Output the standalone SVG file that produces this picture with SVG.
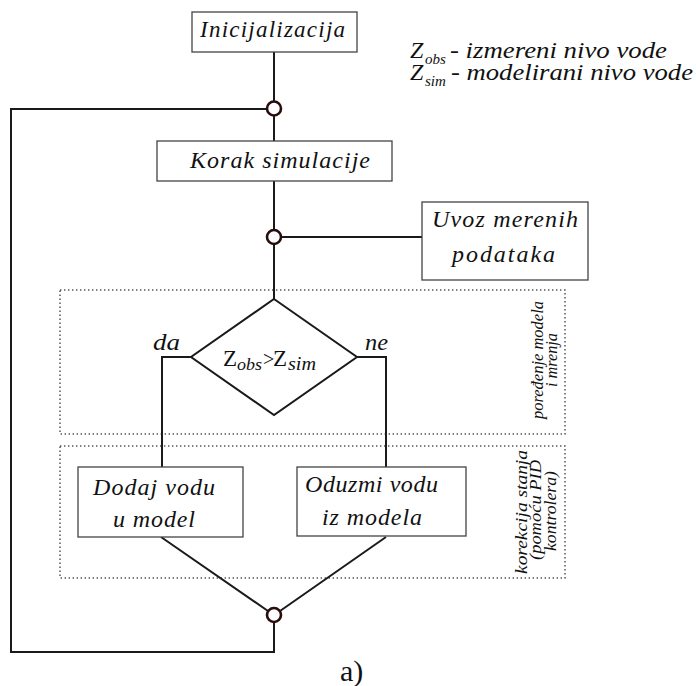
<svg xmlns="http://www.w3.org/2000/svg" width="696" height="686" viewBox="0 0 696 686">
<style>
.box{fill:#fff;stroke:#444;stroke-width:1.3}
.ln{fill:none;stroke:#1a1a1a;stroke-width:2}
.jn{fill:#fff;stroke:#2a0c0c;stroke-width:2.6}
.dot{fill:none;stroke:#555;stroke-width:1.5;stroke-dasharray:1.4 2.6}
.t{font-family:'Liberation Serif','Times New Roman','DejaVu Serif',serif;font-style:italic;fill:#111}
.u{font-family:'Liberation Serif','Times New Roman','DejaVu Serif',serif;fill:#111}
.m{font-size:24px}
.s{font-size:17px}
</style>
<rect width="696" height="686" fill="#fff"/>
<g id="regions">
<rect class="dot" x="60" y="290" width="505" height="144"/>
<rect class="dot" x="60" y="446" width="505" height="132"/>
<text class="t s" transform="translate(543,360) rotate(-90)" text-anchor="middle" textLength="118" lengthAdjust="spacingAndGlyphs">poređenje modela</text>
<text class="t s" transform="translate(557,360) rotate(-90)" text-anchor="middle" textLength="54" lengthAdjust="spacingAndGlyphs">i mrenja</text>
<text class="t s" transform="translate(527,512) rotate(-90)" text-anchor="middle" textLength="124" lengthAdjust="spacingAndGlyphs">korekcija stanja</text>
<text class="t s" transform="translate(541,510) rotate(-90)" text-anchor="middle" textLength="100" lengthAdjust="spacingAndGlyphs">(pomoću PID</text>
<text class="t s" transform="translate(556,511) rotate(-90)" text-anchor="middle" textLength="80" lengthAdjust="spacingAndGlyphs">kontrolera)</text>
</g>
<g id="connectors">
<path class="ln" d="M274 52V101M274 116V141M274 181V230M274 244V299M281 237H422"/>
<path class="ln" d="M267 109H11V652H274V622"/>
<path class="ln" d="M191 357H162V467M357 357H386V467"/>
<path class="ln" d="M161 537L268 611M386 537L280 611"/>
</g>
<g id="init">
<rect class="box" x="192" y="12" width="165" height="40"/>
<text class="t" x="200" y="37" font-size="23" textLength="145" lengthAdjust="spacing">Inicijalizacija</text>
</g>
<g id="junction1"><circle class="jn" cx="274" cy="108.5" r="7"/></g>
<g id="korak">
<rect class="box" x="157" y="141" width="235" height="40"/>
<text class="t m" x="190" y="168" textLength="180" lengthAdjust="spacing">Korak simulacije</text>
</g>
<g id="junction2"><circle class="jn" cx="274" cy="237" r="7"/></g>
<g id="uvoz">
<rect class="box" x="422" y="202" width="166" height="78"/>
<text class="t m" x="432" y="227" textLength="146" lengthAdjust="spacing">Uvoz merenih</text>
<text class="t m" x="452" y="262" textLength="103" lengthAdjust="spacing">podataka</text>
</g>
<g id="decision">
<polygon class="ln" style="fill:#fff" points="274,299 357,357 274,415 191,357"/>
<text class="u" x="223" y="366" font-size="23">Z<tspan class="t" x="237" y="370" font-size="17" textLength="25" lengthAdjust="spacingAndGlyphs">obs</tspan><tspan x="263" y="366" font-size="20">&gt;</tspan><tspan x="273" y="366">Z</tspan><tspan class="t" x="288" y="370" font-size="18" textLength="28" lengthAdjust="spacingAndGlyphs">sim</tspan></text>
<text class="t m" x="153" y="350" textLength="27" lengthAdjust="spacingAndGlyphs">da</text>
<text class="t m" x="365" y="350" textLength="23" lengthAdjust="spacingAndGlyphs">ne</text>
</g>
<g id="dodaj">
<rect class="box" x="78" y="467" width="165" height="70"/>
<text class="t m" x="93" y="495" textLength="122" lengthAdjust="spacing">Dodaj vodu</text>
<text class="t m" x="113" y="527" textLength="82" lengthAdjust="spacing">u model</text>
</g>
<g id="oduzmi">
<rect class="box" x="297" y="467" width="169" height="69"/>
<text class="t m" x="305" y="492" textLength="133" lengthAdjust="spacing">Oduzmi vodu</text>
<text class="t m" x="322" y="525" textLength="100" lengthAdjust="spacing">iz modela</text>
</g>
<g id="junction3"><circle class="jn" cx="274" cy="615" r="7"/></g>
<g id="legend">
<text class="t" x="410" y="58" font-size="24">Z<tspan x="425" y="64" font-size="15">obs</tspan><tspan x="450" y="58" textLength="217" lengthAdjust="spacingAndGlyphs">- izmereni nivo vode</tspan></text>
<text class="t" x="410" y="80" font-size="24">Z<tspan x="425" y="86" font-size="15">sim</tspan><tspan x="451" y="80" textLength="242" lengthAdjust="spacingAndGlyphs">- modelirani nivo vode</tspan></text>
</g>
<g id="caption">
<text class="u" x="340" y="681" font-size="30">a)</text>
</g>
</svg>
